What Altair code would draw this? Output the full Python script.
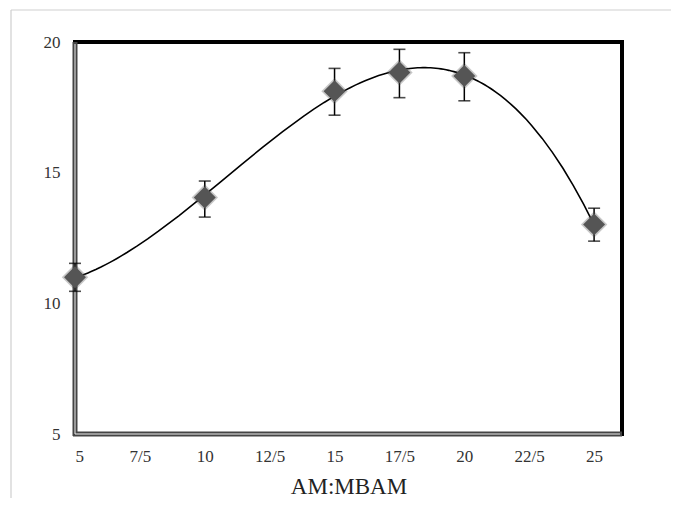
import altair as alt
import pandas as pd

tick_labels = ["5", "7/5", "10", "12/5", "15", "17/5", "20", "22/5", "25"]
categories = ["5", "10", "15", "17/5", "20", "25"]
values = [11.0, 14.05, 18.12, 18.83, 18.7, 13.02]
err_low = [10.46, 13.3, 17.2, 17.87, 17.75, 12.38]
err_high = [11.53, 14.68, 18.99, 19.72, 19.59, 13.64]

pos = [tick_labels.index(c) for c in categories]
df = pd.DataFrame({"xi": pos, "cat": categories, "y": values, "lo": err_low, "hi": err_high})

label_expr = "[" + ",".join("'%s'" % t for t in tick_labels) + "][round(datum.value)]"

SERIF = "Liberation Serif, Times New Roman, DejaVu Serif, serif"

xs = alt.Scale(domain=[0, 8.43], nice=False, zero=False)
ys = alt.Scale(domain=[5, 20], nice=False, zero=False)

x_enc = alt.X("xi:Q", scale=xs, title="AM:MBAM",
              axis=alt.Axis(values=list(range(9)), labelExpr=label_expr, grid=False,
                            ticks=False, domain=False, labelFont=SERIF,
                            labelFontSize=17, labelColor="#333", labelPadding=14,
                            titleFont=SERIF, titleFontSize=23,
                            titleFontWeight="normal", titleColor="#222", titlePadding=11))
y_enc = alt.Y("y:Q", scale=ys, title=None,
              axis=alt.Axis(values=[5, 10, 15, 20], grid=False, ticks=False, domain=False,
                            labelFont=SERIF, labelFontSize=17,
                            labelColor="#333", labelPadding=15))

base = alt.Chart(df)

trend = base.transform_regression("xi", "y", method="poly", order=3, extent=[0, 8]).mark_line(
    color="#000", strokeWidth=1.6).encode(x=x_enc, y=y_enc)

rules = base.mark_rule(color="#000", strokeWidth=1.5).encode(
    x="xi:Q", y="lo:Q", y2="hi:Q")
cap_lo = base.mark_tick(color="#000", orient="horizontal", size=12, thickness=1.6).encode(
    x="xi:Q", y="lo:Q")
cap_hi = base.mark_tick(color="#000", orient="horizontal", size=12, thickness=1.6).encode(
    x="xi:Q", y="hi:Q")

halo = base.mark_point(shape="diamond", filled=True, size=700, color="#444", opacity=0.3).encode(
    x="xi:Q", y="y:Q")
pts = base.mark_point(shape="diamond", filled=True, size=480, color="#555", opacity=1).encode(
    x="xi:Q", y="y:Q")

frame = alt.Chart(pd.DataFrame({"a": [0]}))
outer_top = frame.mark_rule(color="#cfcfcf", strokeWidth=1.2).encode(
    x=alt.value(-64), x2=alt.value(620), y=alt.value(-32))
outer_left = frame.mark_rule(color="#cfcfcf", strokeWidth=1.2).encode(
    x=alt.value(-64), y=alt.value(-32), y2=alt.value(470))
left_dk = frame.mark_rule(color="#444", strokeWidth=5).encode(
    x=alt.value(0), y=alt.value(0), y2=alt.value(394))
bot_dk = frame.mark_rule(color="#444", strokeWidth=5).encode(
    x=alt.value(-2), x2=alt.value(547), y=alt.value(392))
left_wh = frame.mark_rule(color="#eee", strokeWidth=1).encode(
    x=alt.value(0), y=alt.value(2), y2=alt.value(392))
bot_wh = frame.mark_rule(color="#eee", strokeWidth=1).encode(
    x=alt.value(0), x2=alt.value(545), y=alt.value(392))

chart = alt.layer(left_dk, bot_dk, left_wh, bot_wh, trend, rules, cap_lo, cap_hi, halo, pts,
                  outer_top, outer_left).properties(
    width=547, height=392,
    background="white",
    autosize=alt.AutoSizeParams(type="none"),
    padding={"left": 67, "top": 34, "right": 49, "bottom": 64},
).configure_view(stroke="#000", strokeWidth=4)

chart.save("out.html", embed_options={"renderer": "svg", "actions": False})
